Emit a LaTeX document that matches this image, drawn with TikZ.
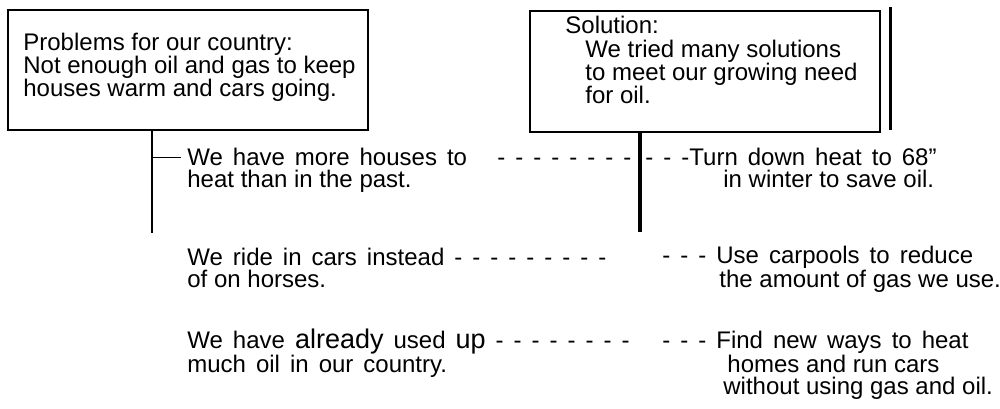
\documentclass[tikz,border=0pt]{standalone}
\usepackage{fontspec}
\setmainfont{Liberation Sans}
\usetikzlibrary{positioning,calc}
\newcommand\widesp{\spaceskip=10pt plus 1pt\relax}
\newcommand\bigword[1]{{\fontsize{27}{22}\selectfont #1}}
\tikzset{
  every node/.style={anchor=base west,align=left,inner sep=0pt,
    font=\fontsize{24}{22}\selectfont},
  every path/.style={thick},
  topicbox/.style={draw,line width=2pt,anchor=north west,outer sep=0pt},
  stem/.style={line width=#1},
}

\begin{document}
\begin{tikzpicture}[x=1pt,y=-1pt]
  \useasboundingbox (0,0) rectangle (1000,409);
  % the two boxes on top (text nodes sit on their last baseline)
  \node[topicbox,minimum width=360pt,minimum height=120pt] (pbox) at (8,10) {};
  \node (ptxt) at (23,97) {Problems for our country:\\Not enough oil and gas to keep\\houses warm and cars going.};
  \node[topicbox,minimum width=350pt,minimum height=121pt] (sbox) at (530,11) {};
  \node (stxt) at (565,104) {Solution:\\[2pt]\hspace*{20pt}We tried many solutions\\\hspace*{20pt}to meet our growing need\\\hspace*{20pt}for oil.};
  \coordinate (rtop) at (890,7);
  \coordinate (rbot) at (890,130);
  \draw[stem=3pt] (rtop) -- (rbot);
  % stems under the boxes
  \coordinate (pstem) at (152,233);
  \coordinate (sstem) at (640,232);
  \draw[stem=2.5pt] (pbox.south -| pstem) -- (pstem);
  \draw[stem=4pt] (sbox.south -| sstem) -- (sstem);
  % problems and solutions
  \node (q1) at (187,187) {{\widesp We have more houses to}\\heat than in the past.};
  \node (d1) at (497,165) {\widesp - - - - - - - -};
  \node (a1) at (645,187) {{\widesp - - -Turn down heat to 68”}\\\hspace*{78pt}in winter to save oil.};
  \draw (pstem |- {$(q1.north west)+(0,10)$}) -- ($(q1.north west)+(-6,10)$);
  \node (q2) at (187,287) {\widesp We ride in cars instead - - - - - - - - -\\of on horses.};
  \node (a2) at (662,287) {{\widesp - - - Use carpools to reduce}\\\hspace*{57pt}the amount of gas we use.};
  \node (q3) at (187,372) {{\widesp We have \bigword{already} used \bigword{up} - - - - - - - -}\\{\widesp much oil in our country.}};
  \node (a3) at (662,394) {{\widesp - - - Find new ways to heat}\\\hspace*{65pt}homes and run cars\\\hspace*{61pt}without using gas and oil.};
\end{tikzpicture}
\end{document}
